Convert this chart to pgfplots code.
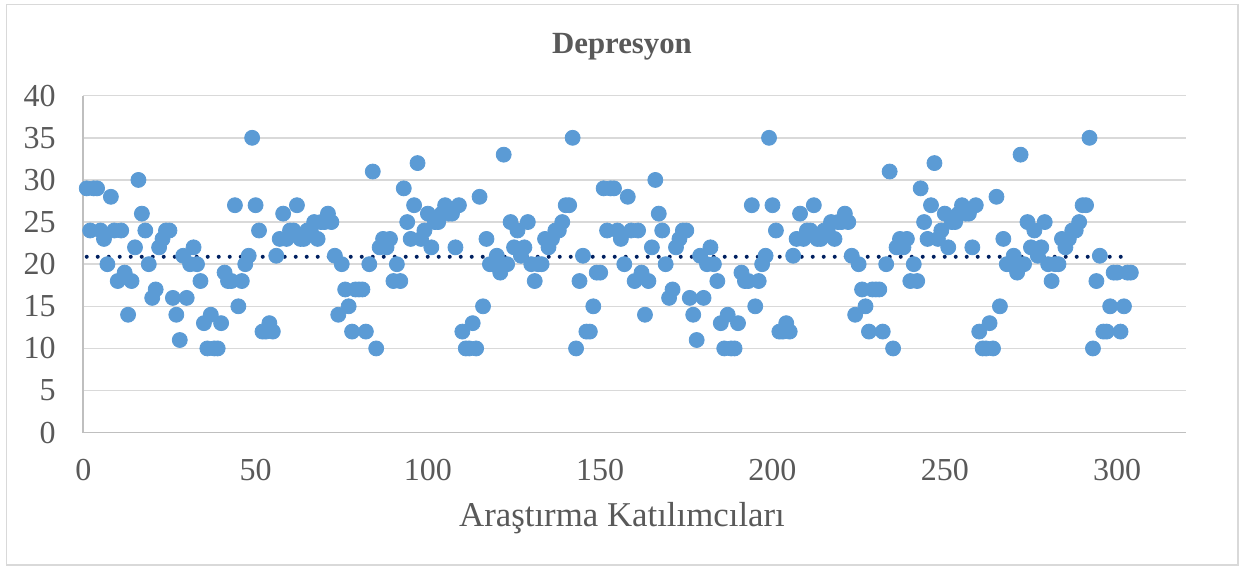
\documentclass[border=0pt]{standalone}
\usepackage{fontspec}
\setmainfont{Liberation Serif}
\usepackage{pgfplots}
\pgfplotsset{compat=1.18}
\definecolor{ptblue}{RGB}{91,155,213}
\definecolor{txtgray}{RGB}{89,89,89}
\definecolor{gridgray}{RGB}{217,217,217}
\definecolor{axgray}{RGB}{191,191,191}
\definecolor{trend}{RGB}{0,32,96}
\begin{document}
\begin{tikzpicture}
\useasboundingbox (-41.65pt,-66.65pt) rectangle (577.85pt,216.35pt);
\draw[gridgray, line width=0.6pt] (-38.3pt,-66.15pt) rectangle (577.35pt,214.2pt);
\begin{axis}[
  at={(0pt,0pt)}, anchor=south west,
  scale only axis, width=551.35pt, height=168.5pt,
  xmin=0, xmax=320, ymin=0, ymax=40,
  xtick={0,50,...,300}, ytick={0,5,...,40},
  axis x line*=bottom, axis y line*=left,
  axis line style={-, axgray, line width=0.8pt},
  ymajorgrids, grid style={gridgray, line width=0.7pt},
  major tick length=0pt,
  tick label style={font=\fontsize{16}{16}\selectfont, text=txtgray},
  /pgf/number format/assume math mode=true,
  xticklabel style={anchor=north, inner sep=0pt, yshift=-13.15pt},
  yticklabel style={anchor=east, inner sep=0pt, xshift=-13.65pt},
  clip=false,
]
\addplot[only marks, mark=*, mark size=3.75pt, mark options={fill=ptblue, draw=ptblue}] coordinates {
(1,29)(2,24)(3,29)(4,29)(5,24)(6,23)(7,20)(8,28)(9,24)(10,18)
(11,24)(12,19)(13,14)(14,18)(15,22)(16,30)(17,26)(18,24)(19,20)(20,16)
(21,17)(22,22)(23,23)(24,24)(25,24)(26,16)(27,14)(28,11)(29,21)(30,16)
(31,20)(32,22)(33,20)(34,18)(35,13)(36,10)(37,14)(38,10)(39,10)(40,13)
(41,19)(42,18)(43,18)(44,27)(45,15)(46,18)(47,20)(48,21)(49,35)(50,27)
(51,24)(52,12)(53,12)(54,13)(55,12)(56,21)(57,23)(58,26)(59,23)(60,24)
(61,24)(62,27)(63,23)(64,23)(65,24)(66,24)(67,25)(68,23)(69,25)(70,25)
(71,26)(72,25)(73,21)(74,14)(75,20)(76,17)(77,15)(78,12)(79,17)(80,17)
(81,17)(82,12)(83,20)(84,31)(85,10)(86,22)(87,23)(88,22)(89,23)(90,18)
(91,20)(92,18)(93,29)(94,25)(95,23)(96,27)(97,32)(98,23)(99,24)(100,26)
(101,22)(102,25)(103,25)(104,26)(105,27)(106,26)(107,26)(108,22)(109,27)(110,12)
(111,10)(112,10)(113,13)(114,10)(115,28)(116,15)(117,23)(118,20)(119,20)(120,21)
(121,19)(122,33)(123,20)(124,25)(125,22)(126,24)(127,21)(128,22)(129,25)(130,20)
(131,18)(132,20)(133,20)(134,23)(135,22)(136,23)(137,24)(138,24)(139,25)(140,27)
(141,27)(142,35)(143,10)(144,18)(145,21)(146,12)(147,12)(148,15)(149,19)(150,19)
(151,29)(152,24)(153,29)(154,29)(155,24)(156,23)(157,20)(158,28)(159,24)(160,18)
(161,24)(162,19)(163,14)(164,18)(165,22)(166,30)(167,26)(168,24)(169,20)(170,16)
(171,17)(172,22)(173,23)(174,24)(175,24)(176,16)(177,14)(178,11)(179,21)(180,16)
(181,20)(182,22)(183,20)(184,18)(185,13)(186,10)(187,14)(188,10)(189,10)(190,13)
(191,19)(192,18)(193,18)(194,27)(195,15)(196,18)(197,20)(198,21)(199,35)(200,27)
(201,24)(202,12)(203,12)(204,13)(205,12)(206,21)(207,23)(208,26)(209,23)(210,24)
(211,24)(212,27)(213,23)(214,23)(215,24)(216,24)(217,25)(218,23)(219,25)(220,25)
(221,26)(222,25)(223,21)(224,14)(225,20)(226,17)(227,15)(228,12)(229,17)(230,17)
(231,17)(232,12)(233,20)(234,31)(235,10)(236,22)(237,23)(238,22)(239,23)(240,18)
(241,20)(242,18)(243,29)(244,25)(245,23)(246,27)(247,32)(248,23)(249,24)(250,26)
(251,22)(252,25)(253,25)(254,26)(255,27)(256,26)(257,26)(258,22)(259,27)(260,12)
(261,10)(262,10)(263,13)(264,10)(265,28)(266,15)(267,23)(268,20)(269,20)(270,21)
(271,19)(272,33)(273,20)(274,25)(275,22)(276,24)(277,21)(278,22)(279,25)(280,20)
(281,18)(282,20)(283,20)(284,23)(285,22)(286,23)(287,24)(288,24)(289,25)(290,27)
(291,27)(292,35)(293,10)(294,18)(295,21)(296,12)(297,12)(298,15)(299,19)(300,19)
(301,12)(302,15)(303,19)(304,19)
};
\addplot[trend, line width=2pt, line cap=round, dash pattern=on 0pt off 5.5pt] coordinates {(1,20.88) (304,20.88)};
\end{axis}
\node[anchor=base, font=\fontsize{15.4}{15.4}\selectfont\bfseries, text=txtgray] at (269.35pt,189.35pt) {Depresyon};
\node[anchor=base, font=\fontsize{17.4}{17.4}\selectfont, text=txtgray] at (269.35pt,-47.15pt) {Araştırma Katılımcıları};
\end{tikzpicture}
\end{document}
